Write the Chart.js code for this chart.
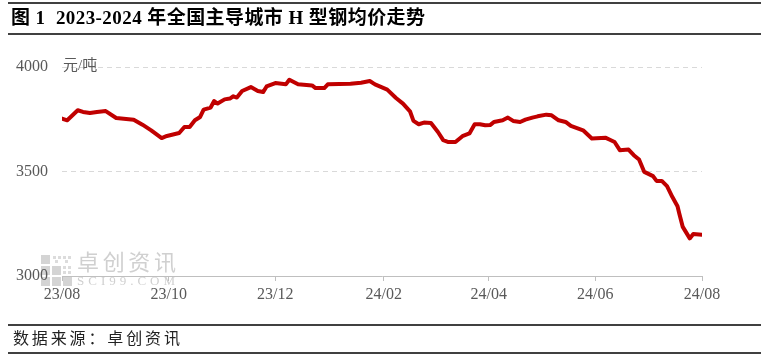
<!DOCTYPE html>
<html>
<head>
<meta charset="utf-8">
<script src="https://cdn.jsdelivr.net/npm/chart.js@4/dist/chart.umd.min.js"></script>
<style>
  html, body { margin: 0; padding: 0; background: #fff; }
  canvas { display: block; }
</style>
</head>
<body>
<canvas id="priceChart" width="769" height="360"></canvas>
<script>
// H型钢均价 (元/吨)
const dates = [
  '2023-08-01', '2023-08-04', '2023-08-10', '2023-08-13', '2023-08-17', '2023-08-21', '2023-08-26',
  '2023-09-01', '2023-09-11', '2023-09-16', '2023-09-21', '2023-09-27', '2023-09-30',
  '2023-10-07', '2023-10-10', '2023-10-13', '2023-10-16', '2023-10-19', '2023-10-21', '2023-10-25', '2023-10-27', '2023-10-29',
  '2023-11-02', '2023-11-05', '2023-11-07', '2023-11-09', '2023-11-12', '2023-11-17', '2023-11-21', '2023-11-24', '2023-11-26',
  '2023-12-01', '2023-12-07', '2023-12-09', '2023-12-14', '2023-12-22', '2023-12-24', '2023-12-29', '2023-12-31',
  '2024-01-13', '2024-01-19', '2024-01-24', '2024-01-27',
  '2024-02-03', '2024-02-08', '2024-02-12', '2024-02-16', '2024-02-18', '2024-02-21', '2024-02-24', '2024-02-28',
  '2024-03-03', '2024-03-06', '2024-03-09', '2024-03-13', '2024-03-17', '2024-03-21', '2024-03-24', '2024-03-27', '2024-03-30',
  '2024-04-02', '2024-04-04', '2024-04-09', '2024-04-12', '2024-04-15', '2024-04-19', '2024-04-22', '2024-04-26', '2024-04-29',
  '2024-05-04', '2024-05-07', '2024-05-11', '2024-05-15', '2024-05-18', '2024-05-25', '2024-05-30',
  '2024-06-07', '2024-06-09', '2024-06-12', '2024-06-15', '2024-06-20', '2024-06-23', '2024-06-26', '2024-06-29',
  '2024-07-04', '2024-07-06', '2024-07-09', '2024-07-12', '2024-07-15', '2024-07-18', '2024-07-19', '2024-07-21', '2024-07-25', '2024-07-27',
  '2024-08-01'
];
const prices = [
  3753, 3745, 3793, 3785, 3780, 3785, 3789,
  3756, 3748, 3724, 3697, 3660, 3670,
  3684, 3713, 3713, 3745, 3761, 3796, 3806, 3837, 3825,
  3845, 3849, 3860, 3854, 3885, 3904, 3885, 3880, 3907,
  3923, 3917, 3939, 3917, 3912, 3899, 3899, 3917,
  3920, 3925, 3933, 3917,
  3892, 3852, 3825, 3788, 3742, 3726, 3734, 3732,
  3689, 3650, 3641, 3641, 3669, 3682, 3726, 3726, 3721,
  3723, 3737, 3745, 3758, 3742, 3737, 3748, 3758, 3764,
  3772, 3769, 3745, 3737, 3718, 3697, 3658,
  3661, 3653, 3641, 3602, 3605, 3578, 3557, 3498,
  3478, 3455, 3455, 3430, 3379, 3334, 3299, 3235, 3180, 3201,
  3197
];
const tickDates = ['2023-08-01', '2023-10-01', '2023-12-01', '2024-02-01', '2024-04-01', '2024-06-01', '2024-08-01'];
const tickLabels = ['23/08', '23/10', '23/12', '24/02', '24/04', '24/06', '24/08'];

const serif = '"Liberation Serif", "Noto Sans CJK SC", serif';
const cjk = '"Liberation Serif", "Noto Sans CJK SC", sans-serif';

const t0 = Date.parse(dates[0]);
const dayOf = s => (Date.parse(s) - t0) / 86400000;

// draw text so it spans from x0 to x1
function spread(c, text, x0, x1, y) {
  const chars = Array.from(text);
  const w = chars.reduce((s, ch) => s + c.measureText(ch).width, 0);
  const gap = (x1 - x0 - w) / (chars.length - 1);
  let x = x0;
  chars.forEach(ch => {
    c.fillText(ch, x, y);
    x += c.measureText(ch).width + gap;
  });
}

// title, rules, footer, watermark and unit label
const frame = {
  id: 'frame',
  beforeDraw(chart) {
    const c = chart.ctx;
    c.save();
    c.fillStyle = '#fff';
    c.fillRect(0, 0, chart.width, chart.height);

    // watermark
    c.fillStyle = '#d4d4d4';
    c.fillRect(41, 255, 9, 9);
    c.fillRect(41, 266, 9, 9);
    c.fillRect(41, 277, 9, 9);
    c.fillRect(52, 277, 9, 9);
    c.fillRect(63, 277, 9, 9);
    c.fillRect(52, 266, 9, 9);
    c.fillStyle = '#dcdcdc';
    [[53, 256], [58, 256], [63, 256], [68, 256], [55, 260], [65, 260], [63, 266], [68, 266], [63, 271], [68, 271]].forEach(p => c.fillRect(p[0], p[1], 3, 3));
    c.fillStyle = '#d0d0d0';
    c.font = '22px ' + cjk;
    c.textBaseline = 'middle';
    c.textAlign = 'left';
    spread(c, '卓创资讯', 77, 176, 264);
    c.font = '13px ' + serif;
    spread(c, 'SCI99.COM', 77, 175, 282);
    c.restore();
  },
  afterDraw(chart) {
    const c = chart.ctx;
    const a = chart.chartArea;
    c.save();
    c.strokeStyle = '#000';
    c.lineWidth = 1.5;
    [3, 34, 325, 353].forEach(y => {
      c.beginPath();
      c.moveTo(8, y);
      c.lineTo(761, y);
      c.stroke();
    });
    c.fillStyle = '#000';
    c.textBaseline = 'middle';
    c.textAlign = 'left';
    c.font = 'bold 19px ' + cjk;
    spread(c, '图 1  2023-2024 年全国主导城市 H 型钢均价走势', 11, 425, 19);
    c.font = '16px ' + cjk;
    c.fillStyle = '#222';
    spread(c, '数据来源：卓创资讯', 13, 180, 340);
    c.fillStyle = '#595959';
    c.font = '15px ' + cjk;
    c.fillText('元/吨', a.left + 1, a.top - 1);
    c.restore();
  }
};

new Chart(document.getElementById('priceChart'), {
  type: 'line',
  data: {
    datasets: [{
      label: 'H型钢均价',
      data: dates.map((d, i) => ({ x: dayOf(d), y: prices[i] })),
      borderColor: '#c00000',
      borderWidth: 4,
      pointRadius: 0,
      tension: 0,
      borderJoinStyle: 'round',
      borderCapStyle: 'round'
    }]
  },
  options: {
    responsive: false,
    animation: false,
    devicePixelRatio: 1,
    layout: { padding: { left: 0, top: 67, right: 67, bottom: 0 } },
    plugins: {
      legend: { display: false },
      tooltip: { enabled: false }
    },
    scales: {
      x: {
        type: 'linear',
        min: 0,
        max: dayOf(tickDates[tickDates.length - 1]),
        afterBuildTicks: s => { s.ticks = tickDates.map(d => ({ value: dayOf(d) })); },
        afterFit: s => { s.height = 84; },
        grid: { drawOnChartArea: false, drawTicks: true, tickLength: 5, color: '#bfbfbf' },
        border: { display: true, color: '#bfbfbf', width: 1 },
        ticks: {
          autoSkip: false,
          maxRotation: 0,
          padding: 4,
          color: '#595959',
          font: { family: serif, size: 16 },
          callback: (v, i) => tickLabels[i]
        }
      },
      y: {
        min: 3000,
        max: 4000,
        afterFit: s => { s.width = 62; },
        grid: {
          drawTicks: false,
          color: ctx => ctx.tick && ctx.tick.value === 3000 ? 'rgba(0,0,0,0)' : '#d9d9d9'
        },
        border: { display: false, dash: [5, 4] },
        ticks: {
          stepSize: 500,
          padding: 14,
          color: '#595959',
          font: { family: serif, size: 16 },
          callback: v => String(v)
        }
      }
    }
  },
  plugins: [frame]
});
</script>
</body>
</html>
